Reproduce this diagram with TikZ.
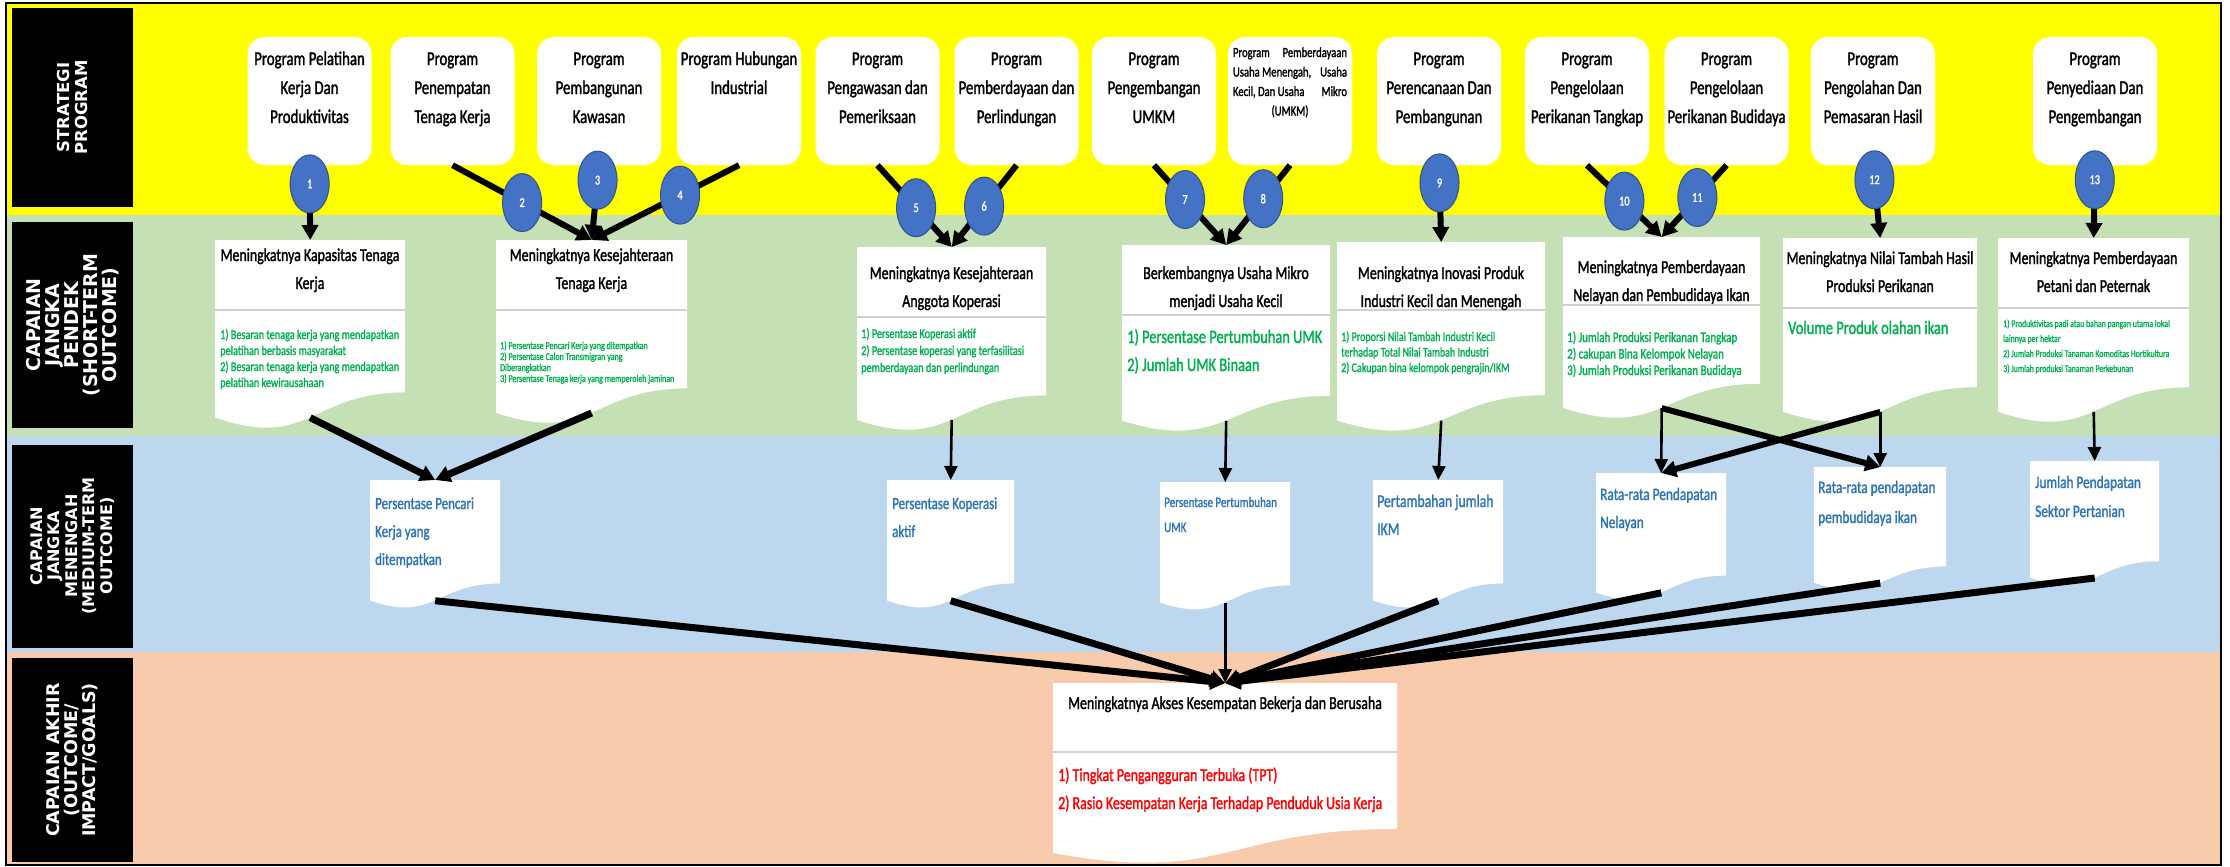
\documentclass[tikz,border=0pt]{standalone}
\usepackage{fontspec}
\setmainfont{Carlito}[FakeStretch=0.76,FakeBold=1.5]
\newfontfamily\lblfont{DejaVu Sans}
\usetikzlibrary{arrows.meta,calc,shapes.geometric}
\definecolor{ybg}{HTML}{FFFF00}
\definecolor{gbg}{HTML}{C5E0B4}
\definecolor{bbg}{HTML}{BDD7EE}
\definecolor{pbg}{HTML}{F8CBAD}
\definecolor{circ}{HTML}{4472C4}
\definecolor{circb}{HTML}{2F528F}
\definecolor{gtxt}{HTML}{00B050}
\definecolor{btxt}{HTML}{2E75B6}
\definecolor{rtxt}{HTML}{FF0000}
% document shape: name, x1, x2, top, h
\newcommand\docbox[5]{%
  \fill[white] (#2,#4) -- (#3,#4) -- (#3,{#4+0.802*#5})
    .. controls ({(#2+#3)/2},{#4+0.802*#5}) and ({(#2+#3)/2},{#4+1.1075*#5}) .. (#2,{#4+0.934*#5}) -- cycle;
  \node[inner sep=0pt, anchor=north west, minimum width={#3-#2}, minimum height={0.933*#5}] (#1) at (#2,#4) {};
}
\newcommand\ptxt[1]{\parbox[c][128pt][t]{122pt}{\centering\fontsize{19.5}{29}\selectfont\rule{0pt}{28pt}#1\par}}
\begin{document}
\begin{tikzpicture}[x=1pt,y=-1pt,
  prog/.style={fill=white, rounded corners=17pt, minimum width=124pt, minimum height=128pt, inner sep=0pt},
  num/.style={ellipse, fill=circ, draw=circb, line width=1pt, minimum width=39pt, minimum height=58pt, inner sep=0pt, text=white, font=\fontsize{13.5}{13.5}\selectfont},
  conn/.style={line width=6pt, -{Triangle[length=15pt,width=16pt]}},
  thinconn/.style={line width=2.6pt, -{Triangle[length=14pt,width=13pt]}},
  hdr/.style={anchor=base, inner sep=0pt, font=\fontsize{18.3}{28}\selectfont},
  itm/.style={anchor=base west, inner sep=0pt, text=gtxt},
  mtx/.style={anchor=base west, inner sep=0pt, text=btxt},
  sepl/.style={draw=black!18, line width=1.5pt},
  lbl/.style={fill=black, text=white, rotate=90, inner sep=0pt, align=center}
]
\useasboundingbox (0,0) rectangle (2230,867);
\fill[white] (0,0) rectangle (2230,867);
% bands
\fill[ybg] (6,3) rectangle (2221,215);
\fill[gbg] (6,215) rectangle (2221,436);
\fill[bbg] (6,436) rectangle (2221,652);
\fill[pbg] (6,652) rectangle (2221,865);
\draw[line width=1.5pt] (6,3) rectangle (2221,865);
% row labels
\node[lbl, minimum width=199pt, minimum height=121pt, font=\lblfont\bfseries\fontsize{16.5}{17.5}\selectfont] (L1) at (72.5,107.5) {STRATEGI\\PROGRAM};
\node[lbl, minimum width=206pt, minimum height=121pt, font=\lblfont\bfseries\fontsize{19}{19}\selectfont] (L2) at (72.5,325) {CAPAIAN\\JANGKA\\PENDEK\\(SHORT-TERM\\OUTCOME)};
\node[lbl, minimum width=203pt, minimum height=121pt, font=\lblfont\bfseries\fontsize{16}{17.5}\selectfont] (L3) at (72.5,546) {CAPAIAN\\JANGKA\\MENENGAH\\(MEDIUM-TERM\\OUTCOME)};
\node[lbl, minimum width=204pt, minimum height=121pt, font=\lblfont\bfseries\fontsize{17.5}{18}\selectfont] (L4) at (72.5,760) {CAPAIAN AKHIR\\(OUTCOME/\\IMPACT/GOALS)};
% program boxes
\node[prog] (p1) at (309.5,101) {\ptxt{Program Pelatihan\\Kerja Dan\\Produktivitas}};
\node[prog] (p2) at (452.5,101) {\ptxt{Program\\Penempatan\\Tenaga Kerja}};
\node[prog] (p3) at (599,101) {\ptxt{Program\\Pembangunan\\Kawasan}};
\node[prog] (p4) at (739,101) {\ptxt{Program Hubungan\\Industrial}};
\node[prog] (p5) at (877.5,101) {\ptxt{Program\\Pengawasan dan\\Pemeriksaan}};
\node[prog] (p6) at (1016.5,101) {\ptxt{Program\\Pemberdayaan dan\\Perlindungan}};
\node[prog] (p7) at (1154,101) {\ptxt{Program\\Pengembangan\\UMKM}};
\node[prog] (p8) at (1290,101) {\parbox[c][128pt][t]{114pt}{\centering\fontsize{14}{19.5}\selectfont\rule{0pt}{20pt}Program\hfill Pemberdayaan\\Usaha Menengah,\hfill Usaha\\Kecil, Dan Usaha\hfill Mikro\\(UMKM)\par}};
\node[prog] (p9) at (1439,101) {\ptxt{Program\\Perencanaan Dan\\Pembangunan}};
\node[prog] (p10) at (1587,101) {\ptxt{Program\\Pengelolaan\\Perikanan Tangkap}};
\node[prog] (p11) at (1726.5,101) {\ptxt{Program\\Pengelolaan\\Perikanan Budidaya}};
\node[prog] (p12) at (1873,101) {\ptxt{Program\\Pengolahan Dan\\Pemasaran Hasil}};
\node[prog] (p13) at (2095,101) {\ptxt{Program\\Penyediaan Dan\\Pengembangan}};
% short-term documents
\docbox{A}{215}{405}{240}{190}
\docbox{B}{496}{687}{240}{185}
\docbox{C}{857}{1046}{247}{185}
\docbox{D}{1122}{1330}{245}{188}
\docbox{E}{1337}{1545}{242}{191}
\docbox{F}{1563}{1760}{237}{183}
\docbox{G}{1783}{1977}{238}{186}
\docbox{H}{1998}{2189}{238}{186}
\draw[sepl] (215,310) -- (405,310);
\draw[sepl] (496,310) -- (687,310);
\draw[sepl] (857,317) -- (1046,317);
\draw[sepl] (1122,315) -- (1330,315);
\draw[sepl] (1337,310) -- (1545,310);
\draw[sepl] (1563,305) -- (1760,305);
\draw[sepl] (1783,308) -- (1977,308);
\draw[sepl] (1998,308) -- (2189,308);
\node[hdr] (Ah) at (310,261) {\parbox[t]{190pt}{\centering Meningkatnya Kapasitas Tenaga\\Kerja}};
\node[hdr] (Bh) at (591.5,261) {\parbox[t]{190pt}{\centering Meningkatnya Kesejahteraan\\Tenaga Kerja}};
\node[hdr] (Ch) at (951.5,279) {\parbox[t]{189pt}{\centering Meningkatnya Kesejahteraan\\Anggota Koperasi}};
\node[hdr] (Dh) at (1226,279) {\parbox[t]{200pt}{\centering Berkembangnya Usaha Mikro\\menjadi Usaha Kecil}};
\node[hdr] (Eh) at (1441,279) {\parbox[t]{208pt}{\centering Meningkatnya Inovasi Produk\\Industri Kecil dan Menengah}};
\node[hdr] (Fh) at (1661.5,273) {\parbox[t]{197pt}{\centering Meningkatnya Pemberdayaan\\Nelayan dan Pembudidaya Ikan}};
\node[hdr] (Gh) at (1880,264) {\parbox[t]{194pt}{\centering Meningkatnya Nilai Tambah Hasil\\Produksi Perikanan}};
\node[hdr] (Hh) at (2093.5,264) {\parbox[t]{191pt}{\centering Meningkatnya Pemberdayaan\\Petani dan Peternak}};
\node[itm, font=\fontsize{13.5}{16}\selectfont] (Ai) at (220,339) {\parbox[t]{300pt}{\raggedright 1) Besaran  tenaga kerja yang mendapatkan\\pelatihan berbasis masyarakat\\2) Besaran  tenaga kerja yang mendapatkan\\pelatihan kewirausahaan}};
\node[itm, font=\fontsize{10.5}{11}\selectfont] (Bi) at (500,349) {\parbox[t]{300pt}{\raggedright 1) Persentase Pencari Kerja yang ditempatkan\\2) Persentase Calon Transmigran yang\\Diberangkatkan\\3) Persentase Tenaga kerja yang memperoleh jaminan}};
\node[itm, font=\fontsize{13.5}{17}\selectfont] (Ci) at (861,338) {\parbox[t]{300pt}{\raggedright 1) Persentase Koperasi aktif\\2) Persentase koperasi yang terfasilitasi\\pemberdayaan dan perlindungan}};
\node[itm, font=\fontsize{19}{28}\selectfont] (Di) at (1127,343) {\parbox[t]{300pt}{\raggedright 1) Persentase Pertumbuhan UMK\\2) Jumlah UMK Binaan}};
\node[itm, font=\fontsize{13.2}{15.5}\selectfont] (Ei) at (1341,341) {\parbox[t]{300pt}{\raggedright 1) Proporsi Nilai Tambah Industri Kecil\\terhadap Total Nilai Tambah Industri\\2) Cakupan bina kelompok pengrajin/IKM}};
\node[itm, font=\fontsize{14.5}{16.5}\selectfont] (Fi) at (1567,342) {\parbox[t]{300pt}{\raggedright 1) Jumlah Produksi  Perikanan Tangkap\\2) cakupan Bina Kelompok Nelayan\\3) Jumlah Produksi  Perikanan Budidaya}};
\node[itm, font=\fontsize{19}{28}\selectfont] (Gi) at (1788,334) {\parbox[t]{300pt}{\raggedright Volume Produk olahan ikan}};
\node[itm, font=\fontsize{10.3}{15}\selectfont] (Hi) at (2003,327) {\parbox[t]{300pt}{\raggedright 1) Produktivitas padi atau bahan  pangan  utama lokal\\lainnya per hektar\\2) Jumlah Produksi Tanaman  Komoditas Hortikultura\\3) Jumlah produksi Tanaman  Perkebunan}};
% medium-term documents
\docbox{P1}{370}{500}{480}{129}
\docbox{P2}{887}{1014}{480}{129}
\docbox{P3}{1160}{1290}{482}{129}
\docbox{P4}{1373}{1503}{480}{129}
\docbox{P5}{1596}{1726}{473}{128}
\docbox{P6}{1814}{1946}{467}{124}
\docbox{P7}{2030}{2159}{461}{125}
\node[mtx, font=\fontsize{17}{28}\selectfont] (P1t) at (375,509) {\parbox[t]{200pt}{\raggedright Persentase Pencari\\Kerja yang\\ditempatkan}};
\node[mtx, font=\fontsize{17}{28}\selectfont] (P2t) at (892,509) {\parbox[t]{200pt}{\raggedright Persentase Koperasi\\aktif}};
\node[mtx, font=\fontsize{14.5}{25}\selectfont] (P3t) at (1164,507) {\parbox[t]{200pt}{\raggedright Persentase Pertumbuhan\\UMK}};
\node[mtx, font=\fontsize{18}{28}\selectfont] (P4t) at (1377,507) {\parbox[t]{200pt}{\raggedright Pertambahan jumlah\\IKM}};
\node[mtx, font=\fontsize{17.5}{28}\selectfont] (P5t) at (1600,500) {\parbox[t]{200pt}{\raggedright Rata-rata Pendapatan\\Nelayan}};
\node[mtx, font=\fontsize{17.5}{30}\selectfont] (P6t) at (1818,493) {\parbox[t]{200pt}{\raggedright Rata-rata pendapatan\\pembudidaya ikan}};
\node[mtx, font=\fontsize{17.5}{29}\selectfont] (P7t) at (2035,488) {\parbox[t]{200pt}{\raggedright Jumlah Pendapatan\\Sektor Pertanian}};
% final document
\docbox{FIN}{1053}{1397}{683}{182}
\draw[sepl] (1053,752) -- (1397,752);
\node[hdr, font=\fontsize{18.3}{28}\selectfont] (FINh) at (1225,709) {Meningkatnya  Akses Kesempatan Bekerja dan Berusaha};
\node[anchor=base west, inner sep=0pt, text=rtxt, font=\fontsize{18.3}{28}\selectfont] (FINi) at (1058,781) {\parbox[t]{340pt}{\raggedright 1) Tingkat Pengangguran Terbuka (TPT)\\2) Rasio Kesempatan Kerja Terhadap Penduduk Usia Kerja}};
% program -> short-term connectors with numbered circles
\draw[conn] (p1.south) -- node[num, pos=.25] (c1) {1} (A.north);
\draw[conn] (p2.south) -- node[num, pos=.5] (c2) {2} (B.north);
\draw[conn] (p3.south) -- node[num, pos=.2] (c3) {3} (B.north);
\draw[conn] (p4.south) -- node[num, pos=.4] (c4) {4} (B.north);
\draw[conn] (p5.south) -- node[num, pos=.52] (c5) {5} (C.north);
\draw[conn] (p6.south) -- node[num, pos=.5] (c6) {6} (C.north);
\draw[conn] (p7.south) -- node[num, pos=.43] (c7) {7} (D.north);
\draw[conn] (p8.south) -- node[num, pos=.42] (c8) {8} (D.north);
\draw[conn] (p9.south) -- node[num, pos=.23] (c9) {9} (E.north);
\draw[conn] (p10.south) -- node[num, pos=.5] (c10) {10} (F.north);
\draw[conn] (p11.south) -- node[num, pos=.45] (c11) {11} (F.north);
\draw[conn] (p12.south) -- node[num, pos=.2] (c12) {12} (G.north);
\draw[conn] (p13.south) -- node[num, pos=.2] (c13) {13} (H.north);
% short-term -> medium-term
\draw[conn, line width=7pt] (A.south) -- (P1.north);
\draw[conn, line width=7pt] (B.south) -- (P1.north);
\draw[thinconn] (C.south) -- (P2.north);
\draw[thinconn] (D.south) -- (P3.north);
\draw[thinconn] (E.south) -- (P4.north);
\draw[thinconn] (F.south) -- (P5.north);
\draw[thinconn] (G.south) -- (P6.north);
\draw[conn] (F.south) -- (P6.north);
\draw[conn] (G.south) -- (P5.north);
\draw[thinconn] (H.south) -- (P7.north);
% medium-term -> final
\draw[conn, line width=7pt] (P1.south) -- (FIN.north);
\draw[conn, line width=7pt] (P2.south) -- (FIN.north);
\draw[thinconn] (P3.south) -- (FIN.north);
\draw[conn, line width=7pt] (P4.south) -- (FIN.north);
\draw[conn, line width=7pt] (P5.south) -- (FIN.north);
\draw[conn, line width=7pt] (P6.south) -- (FIN.north);
\draw[conn, line width=7pt] (P7.south) -- (FIN.north);
\end{tikzpicture}
\end{document}
